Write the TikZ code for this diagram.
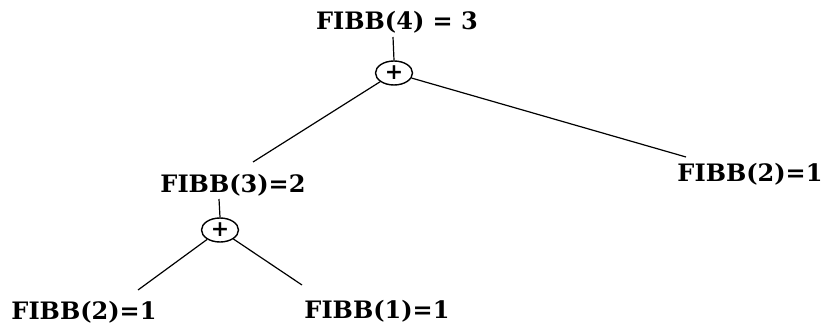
\documentclass[tikz,border=0pt]{standalone}
\usepackage{fontspec}
\newfontfamily\labfont{DejaVu Serif}
\usetikzlibrary{shapes.geometric}
\tikzset{
  lbl/.style={font=\labfont\bfseries\fontsize{24}{28}\selectfont, inner sep=0pt, outer sep=0pt},
  plusnode/.style={ellipse, draw, line width=1.4pt, minimum width=37pt, minimum height=24pt, inner sep=0pt,
    font=\labfont\bfseries\fontsize{22}{22}\selectfont},
  edge/.style={line width=1.2pt}
}
\begin{document}
\begin{tikzpicture}[x=1pt,y=-1pt]
\useasboundingbox (0,0) rectangle (825,326);
\node[lbl] (n4) at (397,22) {FIBB(4) = 3};
\node[plusnode] (p1) at (394,73) {\raisebox{1pt}{+}};
\node[lbl] (n3) at (233,185) {FIBB(3)=2};
\node[plusnode] (p2) at (220,230) {\raisebox{1pt}{+}};
\node[lbl] (n2r) at (750,174) {FIBB(2)=1};
\node[lbl] (n2l) at (84,312) {FIBB(2)=1};
\node[lbl] (n1) at (377,311) {FIBB(1)=1};
\coordinate (t4) at (393,37);
\coordinate (t3) at (219,199);
\coordinate (e3) at (253,162);
\coordinate (e2r) at (686,157);
\coordinate (e2l) at (138,290);
\coordinate (e1) at (302,285);
\draw[edge] (t4) -- (p1.north);
\draw[edge] (p1) -- (e3);
\draw[edge] (p1) -- (e2r);
\draw[edge] (t3) -- (p2.north);
\draw[edge] (p2) -- (e2l);
\draw[edge] (p2) -- (e1);
\end{tikzpicture}
\end{document}
